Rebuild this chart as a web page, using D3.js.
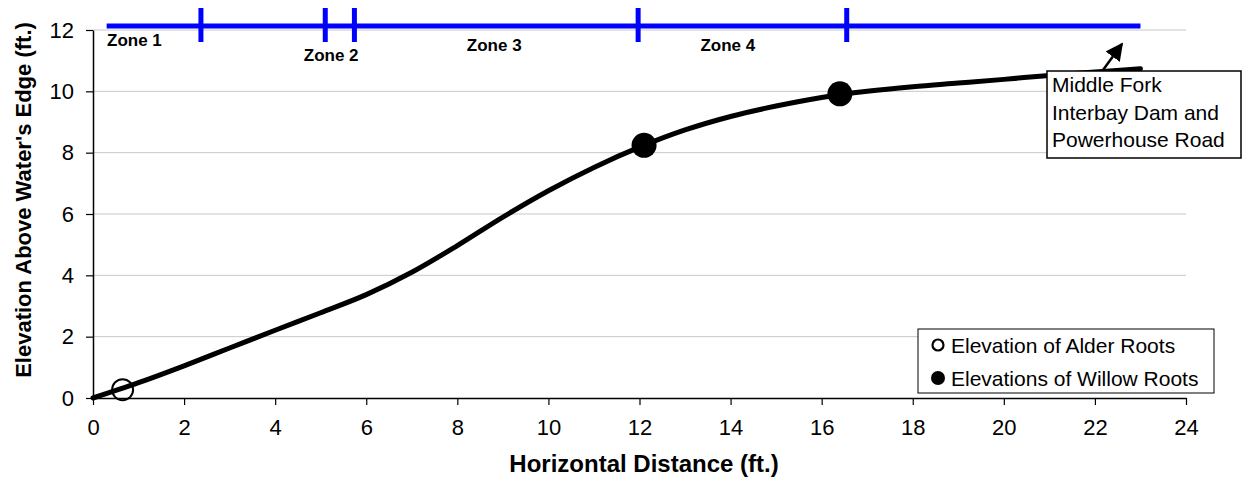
<!DOCTYPE html>
<html>
<head>
<meta charset="utf-8">
<script src="https://cdn.jsdelivr.net/npm/d3@7"></script>
<style>
  body { margin: 0; background: #fff; }
  svg { font-family: "Liberation Sans", Arial, sans-serif; }
</style>
</head>
<body>
<div id="chart"></div>
<script>
// bank profile (horizontal distance ft, elevation ft)
var profileX = [0, 1, 2, 3, 4, 5, 6, 7, 8, 9, 10, 11, 12, 13, 14, 15, 16, 17, 18, 19, 20, 21, 22, 23];
var profileY = [0, 0.5, 1.05, 1.63, 2.21, 2.78, 3.37, 4.1, 4.97, 5.9, 6.76, 7.52, 8.18, 8.74, 9.18, 9.52, 9.8, 10.0, 10.15, 10.27, 10.39, 10.52, 10.63, 10.74];

var alderRoots = [{ x: 0.65, y: 0.27 }];
var willowRoots = [{ x: 12.1, y: 8.24 }, { x: 16.4, y: 9.92 }];

// zone bar across the top
var zoneBarStart = 0.3, zoneBarEnd = 23.0, zoneBarY = 12.13;
var zoneBreaks = [2.37, 5.1, 5.74, 11.97, 16.55];
var zoneNames = ["Zone 1", "Zone 2", "Zone 3", "Zone 4"];
var zoneLabelX = [0.91, 5.23, 8.81, 13.94];
var zoneLabelY = [11.49, 11.0, 11.33, 11.33];

var xTicks = [0, 2, 4, 6, 8, 10, 12, 14, 16, 18, 20, 22, 24];
var yTicks = [0, 2, 4, 6, 8, 10, 12];

var noteLines = ["Middle Fork", "Interbay Dam and", "Powerhouse Road"];
var legendLabels = ["Elevation of Alder Roots", "Elevations of Willow Roots"];

var width = 1243, height = 481;
var margin = { left: 93, right: 57, top: 30, bottom: 83 };

var svg = d3.select("#chart").append("svg")
    .attr("width", width)
    .attr("height", height);

var x = d3.scaleLinear().domain([0, 24]).range([margin.left, width - margin.right]);
var y = d3.scaleLinear().domain([0, 12]).range([height - margin.bottom, margin.top]);

// gridlines
svg.append("g")
    .selectAll("line")
    .data(yTicks.filter(function (d) { return d > 0; }))
    .enter().append("line")
    .attr("x1", x(0)).attr("x2", x(24))
    .attr("y1", function (d) { return y(d); })
    .attr("y2", function (d) { return y(d); })
    .attr("stroke", "#c8c8c8")
    .attr("stroke-width", 1);

// axes
var xAxis = svg.append("g")
    .attr("transform", "translate(0," + y(0) + ")")
    .call(d3.axisBottom(x).tickValues(xTicks).tickSize(7).tickPadding(14).tickSizeOuter(0));
var yAxis = svg.append("g")
    .attr("transform", "translate(" + x(0) + ",0)")
    .call(d3.axisLeft(y).tickValues(yTicks).tickSize(7).tickPadding(12).tickSizeOuter(0));

[xAxis, yAxis].forEach(function (a) {
    a.select(".domain").attr("stroke", "#000").attr("stroke-width", 1.5);
    a.selectAll(".tick line").attr("stroke", "#000").attr("stroke-width", 1.2);
    a.selectAll(".tick text")
        .attr("fill", "#000")
        .style("font-size", "22px")
        .style("font-family", "Liberation Sans, Arial, sans-serif");
});

svg.append("text")
    .attr("x", 644)
    .attr("y", 472)
    .attr("text-anchor", "middle")
    .style("font-size", "24px")
    .style("font-weight", "bold")
    .text("Horizontal Distance (ft.)");

svg.append("text")
    .attr("transform", "translate(31,200) rotate(-90)")
    .attr("text-anchor", "middle")
    .style("font-size", "22px")
    .style("font-weight", "bold")
    .text("Elevation Above Water's Edge (ft.)");

// zone bar
svg.append("line")
    .attr("x1", x(zoneBarStart)).attr("x2", x(zoneBarEnd))
    .attr("y1", y(zoneBarY)).attr("y2", y(zoneBarY))
    .attr("stroke", "#0000ff")
    .attr("stroke-width", 5);

svg.append("g")
    .selectAll("line")
    .data(zoneBreaks)
    .enter().append("line")
    .attr("x1", function (d) { return x(d); })
    .attr("x2", function (d) { return x(d); })
    .attr("y1", y(zoneBarY) - 18)
    .attr("y2", y(zoneBarY) + 16)
    .attr("stroke", "#0000ff")
    .attr("stroke-width", 5);

svg.append("g")
    .selectAll("text")
    .data(zoneNames)
    .enter().append("text")
    .attr("x", function (d, i) { return x(zoneLabelX[i]); })
    .attr("y", function (d, i) { return y(zoneLabelY[i]); })
    .attr("text-anchor", "middle")
    .style("font-size", "17px")
    .style("font-weight", "bold")
    .text(function (d) { return d; });

// profile curve
var pts = profileX.map(function (d, i) { return [d, profileY[i]]; });
var line = d3.line()
    .x(function (d) { return x(d[0]); })
    .y(function (d) { return y(d[1]); })
    .curve(d3.curveCatmullRom.alpha(0.5));

svg.append("path")
    .attr("d", line(pts))
    .attr("fill", "none")
    .attr("stroke", "#000")
    .attr("stroke-width", 5)
    .attr("stroke-linecap", "round");

svg.append("g")
    .selectAll("circle")
    .data(alderRoots)
    .enter().append("circle")
    .attr("cx", function (d) { return x(d.x); })
    .attr("cy", function (d) { return y(d.y); })
    .attr("r", 10.5)
    .attr("fill", "none")
    .attr("stroke", "#000")
    .attr("stroke-width", 2);

svg.append("g")
    .selectAll("circle")
    .data(willowRoots)
    .enter().append("circle")
    .attr("cx", function (d) { return x(d.x); })
    .attr("cy", function (d) { return y(d.y); })
    .attr("r", 12.5)
    .attr("fill", "#000");

// annotation
svg.append("defs").append("marker")
    .attr("id", "arrow")
    .attr("viewBox", "0 0 10 10")
    .attr("refX", 9).attr("refY", 5)
    .attr("markerWidth", 7).attr("markerHeight", 7)
    .attr("markerUnits", "strokeWidth")
    .attr("orient", "auto")
    .append("path")
    .attr("d", "M0,0 L10,5 L0,10 Z")
    .attr("fill", "#000");

svg.append("line")
    .attr("x1", 1103).attr("y1", 70)
    .attr("x2", 1122).attr("y2", 44)
    .attr("stroke", "#000")
    .attr("stroke-width", 2.5)
    .attr("marker-end", "url(#arrow)");

svg.append("rect")
    .attr("x", 1047).attr("y", 71)
    .attr("width", 194).attr("height", 87)
    .attr("fill", "#fff")
    .attr("stroke", "#000")
    .attr("stroke-width", 1.5);

svg.append("g")
    .selectAll("text")
    .data(noteLines)
    .enter().append("text")
    .attr("x", 1052)
    .attr("y", function (d, i) { return 92 + i * 27.5; })
    .style("font-size", "21px")
    .text(function (d) { return d; });

// legend
var lg = svg.append("g");
lg.append("rect")
    .attr("x", 918).attr("y", 329)
    .attr("width", 296).attr("height", 64)
    .attr("fill", "#fff")
    .attr("stroke", "#000")
    .attr("stroke-width", 1);

lg.append("circle")
    .attr("cx", 938).attr("cy", 345).attr("r", 5.5)
    .attr("fill", "none").attr("stroke", "#000").attr("stroke-width", 2.2);
lg.append("circle")
    .attr("cx", 938).attr("cy", 378).attr("r", 7)
    .attr("fill", "#000");

lg.selectAll("text")
    .data(legendLabels)
    .enter().append("text")
    .attr("x", 951)
    .attr("y", function (d, i) { return 345 + i * 33; })
    .attr("dy", "0.36em")
    .style("font-size", "21px")
    .text(function (d) { return d; });
</script>
</body>
</html>
